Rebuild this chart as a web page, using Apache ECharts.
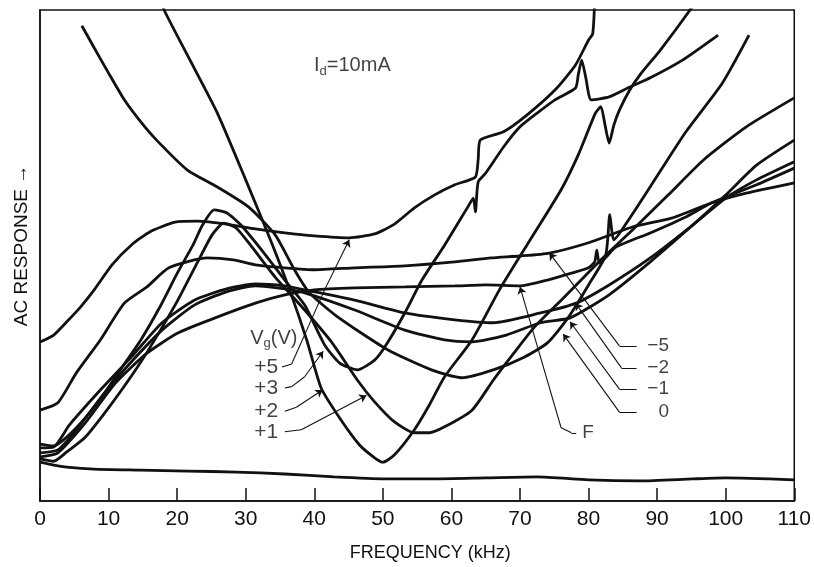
<!DOCTYPE html>
<html>
<head>
<meta charset="utf-8">
<script src="https://cdn.jsdelivr.net/npm/echarts@6/dist/echarts.min.js"></script>
<style>
  html, body { margin: 0; padding: 0; background: #fff; }
  #chart { width: 814px; height: 567px; }
</style>
</head>
<body>
<div id="chart"></div>
<script>
// frequency in kHz, AC response in arbitrary units (0..100)
const baseline = [[0,7.9],[2.0,7.3],[3.9,6.9],[7.9,6.5],[14.7,6.3],[21.5,6.1],[28.6,5.9],[35.7,5.5],[42.9,4.9],[50.3,4.5],[57.5,4.5],[65.0,4.7],[72.5,4.9],[80.0,4.3],[87.5,4.1],[95.2,4.5],[100,4.7],[110,4.3]];

const vgPlus5 = [[0,32.4],[2.0,33.8],[3.9,36.5],[5.9,39.5],[7.9,43.0],[10.5,48.1],[13.3,52.1],[16.0,54.8],[19.7,56.8],[23.0,57.0],[27.2,56.4],[31.4,55.4],[35.7,54.6],[40.0,54.0],[45.1,53.6],[48.8,54.4],[51.7,56.4],[54.6,59.7],[57.5,62.3],[60.5,64.4],[63.5,66.0],[63.9,69.5],[64.2,73.5],[67.6,75.2],[71.0,78.6],[75.1,83.7],[78.1,88.8],[80.0,93.9],[80.6,95.1],[80.9,102]];

const vgPlus3 = [[0,11.6],[2.0,11.2],[3.9,13.0],[6.6,16.9],[9.2,21.6],[11.9,27.1],[14.7,32.8],[17.4,39.3],[20.1,46.6],[22.3,52.1],[23.7,56.2],[25.4,59.3],[27.2,58.7],[29.3,56.2],[32.9,50.1],[35.7,45.0],[38.6,39.9],[41.5,31.8],[43.7,28.1],[46.3,26.7],[48.8,28.7],[50.3,31.4],[53.2,38.3],[55.7,45.0],[59.0,52.1],[62.4,59.9],[63.2,61.7],[63.5,58.9],[63.9,65.0],[65.0,66.8],[67.6,72.1],[70.0,76.2],[72.5,79.0],[75.1,81.7],[78.1,84.1],[78.5,86.8],[79.0,89.8],[79.6,86.2],[80.4,81.7],[83.0,82.3],[86.0,84.3],[89.0,86.2],[93.7,89.8],[98.9,94.9]];

const vgPlus2 = [[17.7,102.1],[18.1,100.0],[21.5,90.8],[25.8,79.2],[30.0,65.4],[33.6,53.2],[36.4,43.0],[38.9,32.8],[41.0,23.0],[43.7,16.9],[46.6,11.4],[48.8,8.8],[50.0,7.9],[51.7,9.4],[54.6,14.5],[56.8,19.6],[59.0,25.3],[63.0,32.8],[67.0,43.0],[71.0,52.1],[76.0,63.4],[78.5,70.5],[81.0,79.0],[81.8,80.3],[82.4,76.6],[83.0,72.9],[83.7,76.6],[84.5,79.6],[86.0,83.7],[87.5,86.8],[90.5,91.9],[94.8,100.0],[95.7,102.1]];

const vgPlus1 = [[0,8.6],[2.0,8.1],[3.9,10.0],[6.6,13.0],[9.2,17.5],[11.9,22.6],[14.7,28.3],[17.4,34.4],[20.1,40.9],[23.0,48.7],[25.1,54.2],[26.8,56.6],[28.6,55.6],[30.7,52.1],[34.3,45.6],[38.6,38.9],[42.5,32.4],[46.3,24.6],[48.8,20.2],[51.7,16.1],[54.6,13.9],[56.8,13.9],[59.0,15.1],[63.0,18.5],[66.1,24.6],[69.1,30.1],[72.1,35.4],[76.3,41.3],[81.5,48.7],[86.7,55.6],[91.6,62.3],[96.8,69.5],[103.0,76.2],[110,82.1]];

const vgMinus5 = [[0,18.5],[2.6,20.0],[5.3,26.1],[8.8,32.8],[12.3,40.3],[15.6,43.6],[18.8,47.5],[24.4,49.5],[28.2,49.1],[31.4,48.1],[35.7,47.5],[40.0,47.1],[45.9,47.5],[53.2,47.9],[60.5,48.7],[65.8,49.5],[70.0,49.9],[74.3,50.5],[80.0,52.6],[86.4,55.8],[92.1,57.6],[97.9,60.7],[103.0,62.7],[110,64.8]];

const vgMinus2 = [[0,10.8],[2.0,11.0],[4.3,15.5],[8.8,22.6],[13.3,29.3],[17.8,36.3],[22.5,40.9],[27.2,43.2],[31.4,44.2],[35.7,43.8],[38.6,43.0],[45.9,40.9],[53.2,38.3],[60.5,36.9],[66.1,36.3],[73.0,38.3],[78.2,40.3],[83.0,44.0],[89.0,49.5],[95.2,56.2],[100,61.7],[104.5,65.4],[110,69.1]];

const vgMinus1 = [[0,9.8],[2.6,10.4],[5.3,14.5],[9.2,21.6],[13.3,28.3],[17.8,34.8],[22.5,39.9],[27.2,42.6],[31.4,43.8],[35.7,43.2],[38.6,42.4],[45.9,38.9],[53.2,34.8],[59.0,32.8],[63.0,32.4],[68.0,33.8],[73.0,36.3],[77.3,37.3],[83.0,42.0],[89.0,48.7],[95.2,56.2],[100,62.3],[104.5,68.4],[110,73.5]];

const vgZero = [[6.1,96.8],[7.9,92.3],[9.9,87.4],[12.3,81.7],[14.7,77.2],[17.0,73.5],[21.5,67.4],[25.8,64.0],[30.4,59.9],[34.3,54.2],[37.1,47.1],[39.3,42.4],[43.4,37.5],[50.7,30.8],[57.1,26.7],[61.5,25.1],[66.1,26.7],[70.6,29.3],[74.0,32.2],[77.0,37.3],[80.0,44.0],[82.5,50.1],[83.1,58.3],[83.7,53.2],[86.0,57.6],[89.0,64.0],[94.1,75.0],[99.5,85.1],[103.4,94.9]];

const vgFloat = [[0,9.0],[2.6,9.8],[6.6,15.9],[11.0,24.0],[15.6,30.1],[20.1,34.2],[24.8,36.9],[31.4,40.3],[35.7,42.0],[40.0,43.0],[45.9,43.4],[53.2,43.6],[60.5,43.8],[65.0,44.0],[70.0,43.8],[74.0,45.0],[77.5,46.4],[80.0,47.5],[80.9,48.7],[81.2,51.1],[81.6,48.5],[84.0,51.7],[89.0,54.6],[94.1,57.8],[97.9,60.7],[104.5,64.4],[110,67.8]];

// curve labels with their leader lines (data coords)
const labelNames = ['+5', '+3', '+2', '+1', '\u22125', '\u22122', '\u22121', '0', 'F'];
const labelAnchors = [[35.1,27.3],[35.1,23.0],[35.1,18.3],[35.1,14.1],[92.1,31.6],[92.1,27.1],[92.1,22.8],[92.1,18.1],[78.7,13.9]];
const leaders = [
  [[35.3,27.3],[36.7,27.9],[38.9,34.8],[41.5,43.0],[45.1,53.2]],
  [[35.7,23.0],[36.7,23.3],[38.6,25.3],[41.3,30.5]],
  [[35.7,18.3],[37.4,19.1],[41.2,22.6]],
  [[35.7,14.1],[38.1,14.5],[47.6,21.5]],
  [[87.0,31.6],[84.5,31.6],[74.3,50.5]],
  [[87.0,27.1],[84.8,27.1],[78.1,40.3]],
  [[87.0,22.8],[84.5,22.8],[77.3,36.5]],
  [[87.0,18.1],[84.5,18.1],[76.3,34.0]],
  [[78.2,13.9],[77.5,13.9],[76.0,14.9],[70.0,43.6]]
];

const font = 'Liberation Sans, Arial, sans-serif';
const ink = '#111';

const curves = [
  ['baseline', baseline], ['+5', vgPlus5], ['+3', vgPlus3], ['+2', vgPlus2], ['+1', vgPlus1],
  ['-5', vgMinus5], ['-2', vgMinus2], ['-1', vgMinus1], ['0', vgZero], ['F', vgFloat]
];

let bodySegs = [], tipSegs = [];
leaders.forEach(function (pts) {
  for (let i = 0; i < pts.length - 1; i++) {
    const seg = { coords: [pts[i], pts[i + 1]] };
    if (i === pts.length - 2) tipSegs.push(seg); else bodySegs.push(seg);
  }
});

const labelData = labelNames.map(function (n, i) {
  return {
    name: n, value: labelAnchors[i],
    label: { position: i < 8 ? 'left' : 'right', fontSize: i < 4 ? 21 : 19 }
  };
});
labelData.push({ name: 'Vg', value: [30.3, 33.2], label: { position: 'right', formatter: '{m|V}{s|g}{m|(V)}' } });
labelData.push({ name: 'Id', value: [39.6, 88.6], label: { position: 'right', formatter: '{m|I}{s|d}{m|=10mA}' } });

const series = curves.map(function (c) {
  return {
    type: 'line', name: c[0], data: c[1], showSymbol: false, symbol: 'none',
    smooth: 0.2, clip: true, silent: true,
    lineStyle: { color: ink, width: 2.8 }
  };
});
series.push({
  type: 'lines', coordinateSystem: 'cartesian2d', data: bodySegs, silent: true,
  symbol: 'none', lineStyle: { color: ink, width: 1.1, opacity: 1 }
});
series.push({
  type: 'lines', coordinateSystem: 'cartesian2d', data: tipSegs, silent: true,
  symbol: ['none', 'arrow'], symbolSize: [0, 7],
  lineStyle: { color: ink, width: 1.1, opacity: 1 }
});
series.push({
  type: 'scatter', data: labelData, symbolSize: 1, silent: true,
  itemStyle: { color: 'rgba(0,0,0,0)' },
  label: {
    show: true, distance: 2, formatter: '{b}', color: ink, fontSize: 19, fontFamily: font,
    rich: {
      m: { fontSize: 20, fontFamily: font, color: ink, lineHeight: 23 },
      s: { fontSize: 13, fontFamily: font, color: ink, lineHeight: 23, verticalAlign: 'bottom' }
    }
  }
});

const chart = echarts.init(document.getElementById('chart'));
chart.setOption({
  animation: false,
  backgroundColor: '#fff',
  grid: { left: 40, right: 17, top: 10, bottom: 66, show: true, borderColor: ink, borderWidth: 1.5 },
  xAxis: {
    type: 'value', min: 0, max: 110, interval: 10,
    axisLine: { lineStyle: { color: ink, width: 1.5 } },
    axisTick: { inside: true, length: 13, lineStyle: { color: ink, width: 1.5 } },
    axisLabel: { fontSize: 21, color: ink, fontFamily: font, margin: 8 },
    splitLine: { show: false },
    name: 'FREQUENCY (kHz)', nameLocation: 'middle', nameGap: 43,
    nameTextStyle: { fontSize: 18, color: ink, fontFamily: font, padding: [0, 0, 0, 26] }
  },
  yAxis: {
    type: 'value', min: 0, max: 100,
    axisLine: { show: true, lineStyle: { color: ink, width: 1.5 } },
    axisTick: { show: false }, axisLabel: { show: false }, splitLine: { show: false },
    name: 'AC RESPONSE \u2192', nameLocation: 'middle', nameGap: 9, nameRotate: 90,
    nameTextStyle: { fontSize: 19, color: ink, fontFamily: font, padding: [0, 0, 0, 20] }
  },
  series: series
});
</script>
</body>
</html>
